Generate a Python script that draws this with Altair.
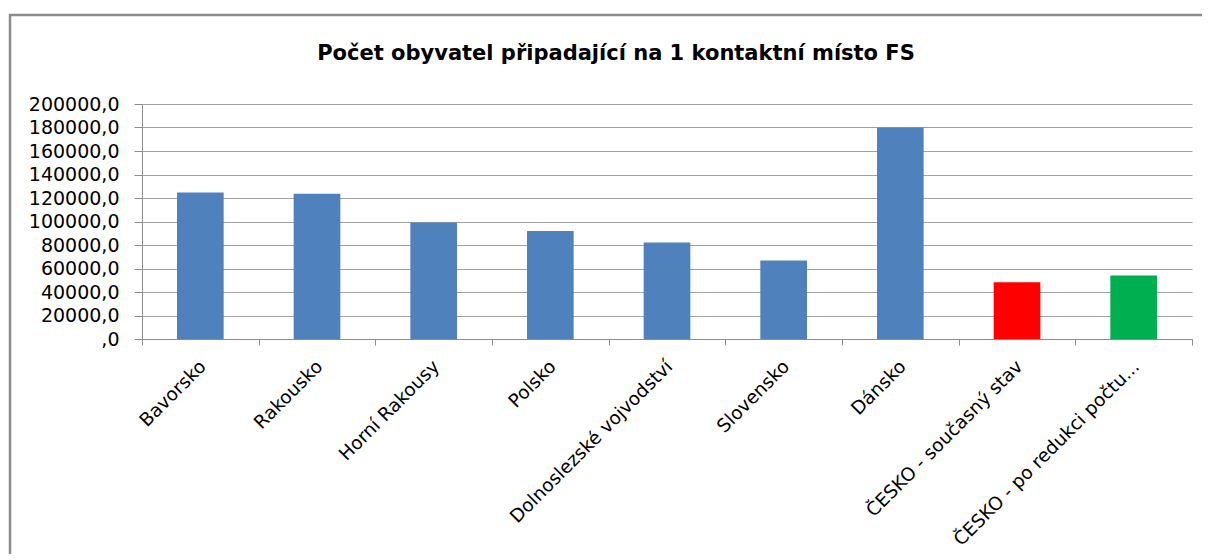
import altair as alt
import pandas as pd

categories = [
    "Bavorsko",
    "Rakousko",
    "Horní Rakousy",
    "Polsko",
    "Dolnoslezské vojvodství",
    "Slovensko",
    "Dánsko",
    "ČESKO - současný stav",
    "ČESKO - po redukci počtu...",
]
values = [124700, 123600, 99100, 92000, 82100, 66800, 180100, 48300, 54000]
colors = ["#4F81BD"] * 7 + ["#FF0000", "#00B050"]
y_ticks = [0, 20000, 40000, 60000, 80000, 100000, 120000, 140000, 160000, 180000, 200000]
title_text = "Počet obyvatel připadající na 1 kontaktní místo FS"

df = pd.DataFrame({"kat": categories, "val": values, "barva": colors})

FONT = "DejaVu Sans"
GRAY = "#8c8c8c"

bars = alt.Chart(df).mark_bar(width=alt.RelativeBandSize(0.4)).encode(
    x=alt.X(
        "kat:N",
        sort=categories,
        title=None,
        scale=alt.Scale(paddingInner=0, paddingOuter=0),
        axis=alt.Axis(
            labelAngle=-45,
            labelAlign="right",
            labelBaseline="middle",
            labelFont=FONT,
            labelFontSize=18.5,
            labelColor="#000000",
            labelPadding=18,
            labelOffset=2,
            labelLimit=400,
            tickBand="extent",
            tickSize=6,
            tickColor=GRAY,
            domainColor=GRAY,
            grid=False,
        ),
    ),
    y=alt.Y(
        "val:Q",
        title=None,
        scale=alt.Scale(domain=[0, 200000], nice=False),
        axis=alt.Axis(
            values=y_ticks,
            labelExpr="datum.value == 0 ? ',0' : replace(format(datum.value, '.1f'), '.', ',')",
            labelFont=FONT,
            labelFontSize=19,
            labelColor="#000000",
            labelPadding=15,
            tickSize=8,
            tickColor=GRAY,
            domainColor=GRAY,
            grid=True,
            gridColor="#a0a0a0",
            gridWidth=1,
        ),
    ),
    color=alt.Color("barva:N", scale=None, legend=None),
)

frame_df = pd.DataFrame({"f": [0]})
frame = alt.Chart(frame_df).mark_rect(
    fillOpacity=0, stroke=GRAY, strokeWidth=2.5
).encode(
    x=alt.value(-132),
    x2=alt.value(1400),
    y=alt.value(-89),
    y2=alt.value(700),
)

chart = (
    alt.layer(frame, bars)
    .properties(
        width=1050,
        height=235,
        title=alt.TitleParams(
            text=title_text,
            font=FONT,
            fontSize=21,
            fontWeight="bold",
            color="#000000",
            anchor="middle",
            baseline="alphabetic",
            dx=-51,
            offset=-67,
        ),
        autosize=alt.AutoSizeParams(type="none"),
        padding={"left": 134, "top": 96, "right": 10, "bottom": 215},
    )
    .configure_view(stroke=None)
)

chart.save("out.html", embed_options={"renderer": "svg", "actions": False})
